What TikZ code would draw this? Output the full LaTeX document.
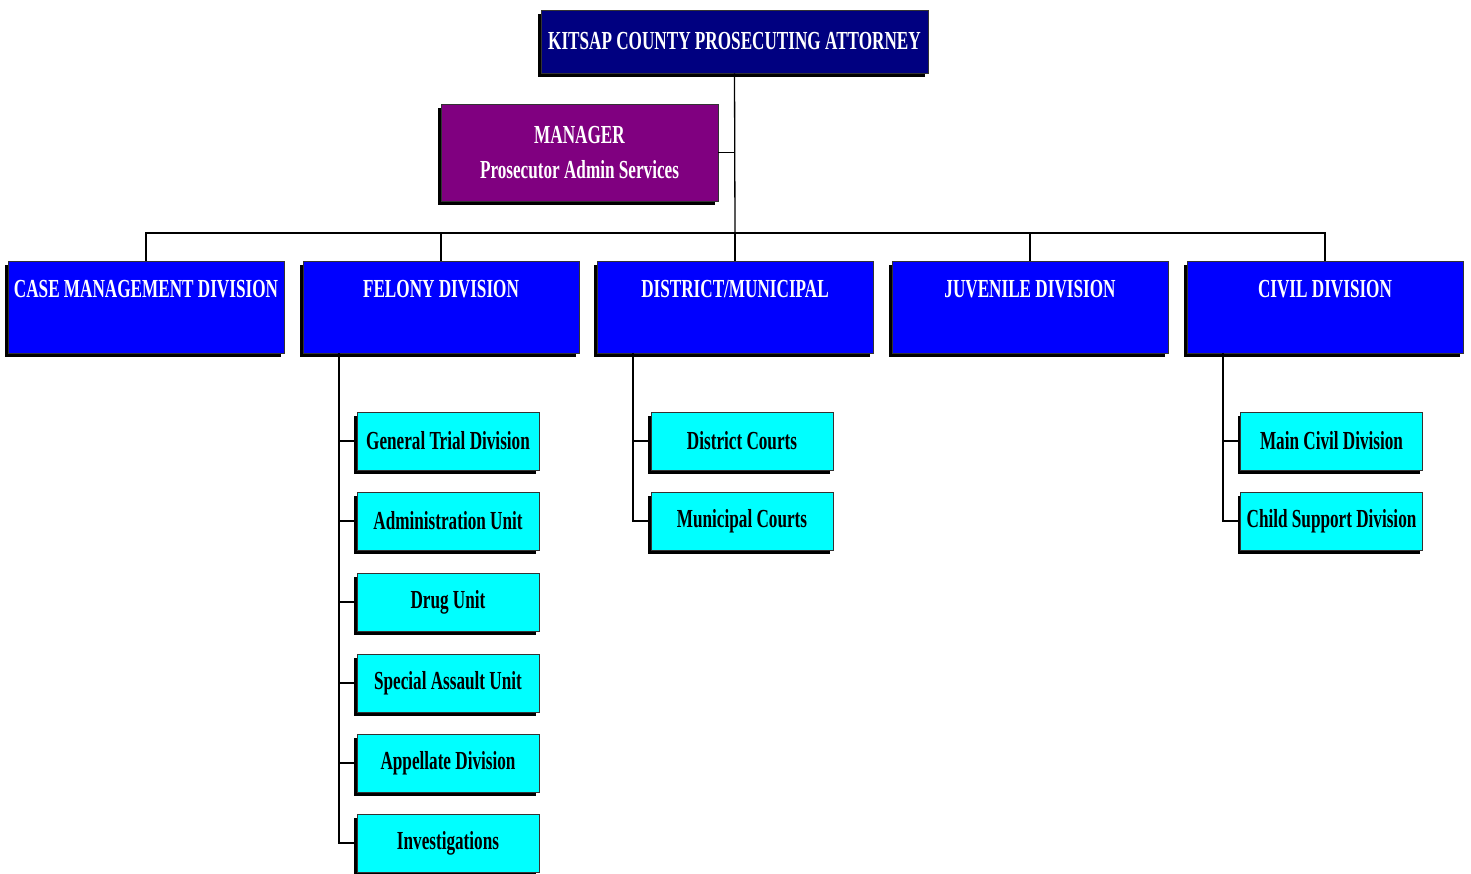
\documentclass[tikz,border=0pt]{standalone}
\usepackage{fontspec}
\newfontfamily\orgfont[FakeStretch=0.66]{Liberation Serif}
\usetikzlibrary{shadows}

\definecolor{chiefblue}{RGB}{0,0,128}
\definecolor{mgrpurple}{RGB}{128,0,128}
\definecolor{divblue}{RGB}{0,0,255}
\definecolor{unitcyan}{RGB}{0,255,255}

\tikzset{
  box/.style={draw=black!80,line width=0.8pt,inner sep=0pt,font=\orgfont\bfseries\fontsize{26}{30}\selectfont,
    drop shadow={shadow xshift=-3pt,shadow yshift=-4pt,fill=black,opacity=1}},
  chiefbox/.style={box,fill=chiefblue,text=white,minimum width=387,minimum height=63},
  mgrbox/.style={box,fill=mgrpurple,text=white,minimum width=277,minimum height=97,align=center},
  divbox/.style={box,fill=divblue,text=white,minimum width=276,
    text height=29,text depth=47,inner ysep=8},
  unitbox/.style={box,fill=unitcyan,text=black,minimum width=182,minimum height=58},
  link/.style={line width=1.3pt}
}

\begin{document}
\begin{tikzpicture}[x=1pt,y=-1pt]
  \useasboundingbox (0,0) rectangle (1471,874);

  \node[chiefbox] (chief) at (734.5,41.5) {KITSAP COUNTY PROSECUTING ATTORNEY};
  \node[mgrbox] (mgr) at (579.5,152.5) {MANAGER\\[5pt]Prosecutor Admin Services};

  \node[divbox] (casemgmt) at (146,307) {CASE MANAGEMENT DIVISION};
  \node[divbox] (felony) at (441,307) {FELONY DIVISION};
  \node[divbox] (distmun) at (735,307) {DISTRICT/MUNICIPAL};
  \node[divbox] (juvenile) at (1030,307) {JUVENILE DIVISION};
  \node[divbox] (civil) at (1325,307) {CIVIL DIVISION};

  % felony units
  \node[unitbox] (trial) at (448,441) {General Trial Division};
  \node[unitbox] (admin) at (448,521) {Administration Unit};
  \node[unitbox] (drug) at (448,602) {Drug Unit};
  \node[unitbox] (assault) at (448,683) {Special Assault Unit};
  \node[unitbox] (appeal) at (448,763) {Appellate Division};
  \node[unitbox] (invest) at (448,843) {Investigations};

  % district/municipal units
  \node[unitbox] (district) at (742,441) {District Courts};
  \node[unitbox] (municipal) at (742,521) {Municipal Courts};

  % civil units
  \node[unitbox] (maincivil) at (1331.5,441) {Main Civil Division};
  \node[unitbox] (childsup) at (1331.5,521) {Child Support Division};

  \coordinate (bus) at (735,233);
  \coordinate (felspine) at (339,353);
  \coordinate (distspine) at (633,353);
  \coordinate (civspine) at (1223,353);

  \draw[link] (chief.south) -- (bus);
  \draw[link] (mgr.east) -- (mgr.east -| chief.south);
  \draw[link] (casemgmt.north) -- (casemgmt.north |- bus) -- (civil.north |- bus) -- (civil.north);
  \foreach \d in {felony,distmun,juvenile}
    {\draw[link] (\d.north) -- (\d.north |- bus);}

  \draw[link] (felspine) -- (felspine |- invest.west) -- (invest.west);
  \foreach \u in {trial,admin,drug,assault,appeal}
    {\draw[link] (felspine |- \u.west) -- (\u.west);}

  \draw[link] (distspine) -- (distspine |- municipal.west) -- (municipal.west);
  \draw[link] (distspine |- district.west) -- (district.west);

  \draw[link] (civspine) -- (civspine |- childsup.west) -- (childsup.west);
  \draw[link] (civspine |- maincivil.west) -- (maincivil.west);
\end{tikzpicture}
\end{document}
